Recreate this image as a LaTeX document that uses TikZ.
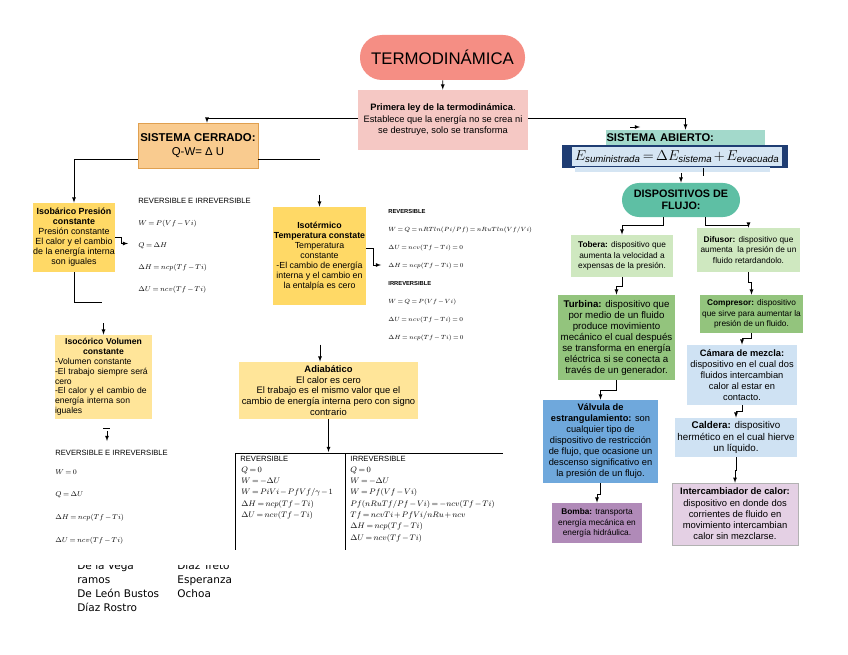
\documentclass[tikz,border=0pt]{standalone}
\usepackage{amsmath}
\usepackage{fontspec}
\setmainfont{Liberation Sans}
\newfontfamily\namefont{DejaVu Sans}
\usepackage{xcolor}
\usepackage{tikz}

\definecolor{termo}{HTML}{F58E84}
\definecolor{ley}{HTML}{F5C8C4}
\definecolor{cerrado}{HTML}{F9CB8F}
\definecolor{cerradoB}{HTML}{E0A050}
\definecolor{amarillo}{HTML}{FFD966}
\definecolor{amarilloC}{HTML}{FFE599}
\definecolor{abierto}{HTML}{A3D9CB}
\definecolor{marino}{HTML}{1F3D73}
\definecolor{celeste}{HTML}{D5E5F3}
\definecolor{flujo}{HTML}{5EBFA4}
\definecolor{verdeC}{HTML}{CFE8C0}
\definecolor{verde}{HTML}{93C47D}
\definecolor{azulC}{HTML}{CFE2F3}
\definecolor{azul}{HTML}{6FA8DC}
\definecolor{malva}{HTML}{B08AB8}
\definecolor{malvaC}{HTML}{E4D0E4}

\thickmuskip=3mu
\medmuskip=2mu

\begin{document}
\begin{tikzpicture}[x=1pt, y=-1pt, >=latex, line width=0.8pt,
  box/.style={rectangle, align=center, inner sep=1pt, font=\fontsize{8}{10}\selectfont},
  rbox/.style={box, font=\fontsize{8.3}{10.8}\selectfont},
  form/.style={anchor=west, inner sep=0pt, font=\fontsize{7}{8}\selectfont},
  tform/.style={form, font=\fontsize{7.6}{8}\selectfont},
  tiny/.style={anchor=west, inner sep=0pt, font=\fontsize{6}{6.5}\selectfont},
  head/.style={anchor=west, inner sep=0pt, font=\fontsize{7.6}{8}\selectfont},
  namen/.style={anchor=base west, inner sep=0pt, font=\namefont\fontsize{10.5}{12}\selectfont}]
  \useasboundingbox (0,0) rectangle (848,655);

  % cabecera
  \node[box, fill=termo, rounded corners=22pt, minimum width=165pt, minimum height=45pt, font=\fontsize{16.8}{19}\selectfont] (termo) at (442.5,57.5) {TERMODINÁMICA};
  \node[box, fill=ley, minimum width=170pt, minimum height=60pt, font=\fontsize{9.3}{11.5}\selectfont] (ley) at (443,120) {\textbf{Primera ley de la termodinámica}.\\Establece que la energía no se crea ni\\se destruye, solo se transforma};
  \draw[->] (termo) -- (ley);

  % sistema cerrado
  \node[box, fill=cerrado, draw=cerradoB, line width=0.6pt, minimum width=120pt, minimum height=45pt, font=\fontsize{11.4}{14}\selectfont] (cerrado) at (198,145.5) {\textbf{SISTEMA CERRADO:}\\Q-W= Δ U};
  \draw[->] ([yshift=2pt]ley.west) -| ([xshift=9pt]cerrado.north);
  \coordinate (cDer) at (320,159);
  \draw ([yshift=-13.5pt]cerrado.east) -- (cDer);

  \node[box, fill=amarillo, minimum width=82pt, minimum height=69pt, inner sep=0pt, font=\fontsize{8.9}{10}\selectfont] (isob) at (74,237.5) {\textbf{Isobárico Presión}\\\textbf{constante}\\Presión constante\\El calor y el cambio\\de la energía interna\\son iguales};
  \draw[->] ([yshift=-13.5pt]cerrado.west) -| (isob.north);
  \coordinate (isobP) at (128,243.5);
  \draw[->] (isob.east) -| ++(6,6) -- (isobP);
  \coordinate (isobB) at (102,302);
  \draw (isob.south) |- (isobB);

  \node[head] (isobH) at (138,201) {REVERSIBLE E IRREVERSIBLE};
  \foreach \f [count=\i] in {W = P(Vf - Vi), Q = \Delta H, \Delta H = ncp(Tf - Ti), \Delta U = ncv(Tf - Ti)}
    \node[form] (isobF\i) at (138,202+22*\i) {$\f$};

  % isotermico
  \node[box, fill=amarillo, minimum width=93pt, minimum height=98pt, inner sep=0pt, font=\fontsize{8.8}{10}\selectfont] (isot) at (319.5,256) {\textbf{Isotérmico}\\\textbf{Temperatura constate}\\Temperatura\\constante\\-El cambio de energía\\interna y el cambio en\\la entalpía es cero};
  \coordinate (isotA) at (319.5,195);
  \draw[->] (isotA) -- (isot.north);
  \coordinate (isotP) at (381,265);
  \draw[->] ([yshift=8pt]isot.east) -| ++(7,17) -- (isotP);

  \node[tiny, font=\bfseries\fontsize{5.8}{6}\selectfont] (isotR) at (388,212) {REVERSIBLE};
  \foreach \f [count=\i] in {W = Q = nRTln(Pi/Pf) = nRuTln(Vf/Vi), \Delta U = ncv(Tf - Ti) = 0, \Delta H = ncp(Tf - Ti) = 0}
    \node[tiny] (isotR\i) at (388,212+18*\i) {$\f$};
  \node[tiny, font=\bfseries\fontsize{5.8}{6}\selectfont] (isotI) at (388,284) {IRREVERSIBLE};
  \foreach \f [count=\i] in {W = Q = P(Vf - Vi), \Delta U = ncv(Tf - Ti) = 0, \Delta H = ncp(Tf - Ti) = 0}
    \node[tiny] (isotI\i) at (388,284+18*\i) {$\f$};

  % isocorico
  \node[box, fill=amarilloC, text width=97pt, align=left, minimum height=84pt, inner sep=0pt, font=\fontsize{8.6}{9.8}\selectfont] (isoc) at (103.5,377) {{\centering\textbf{Isocórico Volumen}\\\textbf{constante}\par}-Volumen constante\\-El trabajo siempre será\\cero\\-El calor y el cambio de\\energía interna son\\iguales};
  \coordinate (isocA) at (103.5,323);
  \draw[->] (isocA) -- (isoc.north);
  \coordinate (isocD1) at (103,428);
  \coordinate (isocD2) at (110,428);
  \draw (isocD1) -- (isocD2);
  \coordinate (isocS) at (107,431);
  \coordinate (isocT) at (107,441);
  \draw[->] (isocS) -- (isocT);

  \node[head] (isocH) at (55,453) {REVERSIBLE E IRREVERSIBLE};
  \foreach \f [count=\i] in {W = 0, Q = \Delta U, \Delta H = ncp(Tf - Ti), \Delta U = ncv(Tf - Ti)}
    \node[form] (isocF\i) at (55,449+23*\i) {$\f$};

  % adiabatico
  \node[box, fill=amarilloC, minimum width=179pt, minimum height=57pt, inner sep=0pt, font=\fontsize{9.4}{10.8}\selectfont] (adia) at (328.5,390.5) {\textbf{Adiabático}\\El calor es cero\\El trabajo es el mismo valor que el\\cambio de energía interna pero con signo\\contrario};
  \draw[->] ([xshift=-8.5pt,yshift=17pt]adia.north) -- ([xshift=-8.5pt]adia.north);
  \coordinate (tabTop) at (328.5,452);
  \draw[->] (adia.south) -- (tabTop);

  % tabla
  \coordinate (tabL) at (235,453);
  \coordinate (tabR) at (503,453);
  \coordinate (tabLB) at (235,550);
  \coordinate (tabM) at (345,453);
  \coordinate (tabMB) at (345,550);
  \draw[line width=0.6pt] (tabL) -- (tabR);
  \draw[line width=0.6pt] (tabL) -- (tabLB);
  \draw[line width=0.6pt] (tabM) -- (tabMB);
  \node[head] (revH) at (240,459) {REVERSIBLE};
  \foreach \f [count=\i] in {Q = 0, W = -\Delta U, W = PiVi - PfVf / \gamma - 1, \Delta H = ncp(Tf - Ti), \Delta U = ncv(Tf - Ti)}
    \node[tform] (rev\i) at (241,459+11.3*\i) {$\f$};
  \node[head] (irrH) at (350,459) {IRREVERSIBLE};
  \foreach \f [count=\i] in {Q = 0, W = -\Delta U, W = Pf(Vf - Vi), Pf(nRuTf/Pf - Vi) = -ncv(Tf - Ti), Tf = ncvTi + PfVi / nRu + ncv, \Delta H = ncp(Tf - Ti), \Delta U = ncv(Tf - Ti)}
    \node[tform] (irr\i) at (350,459+11.3*\i) {$\f$};

  % nombres
  \begin{scope}
    \clip (0,565) rectangle (848,655);
    \foreach \t [count=\i] in {De la Vega, ramos, De León Bustos, Díaz Rostro}
      \node[namen] (nomA\i) at (77,555+14*\i) {\t};
    \foreach \t [count=\i] in {Díaz Treto, Esperanza, Ochoa}
      \node[namen] (nomB\i) at (177,555+14*\i) {\t};
  \end{scope}

  % sistema abierto
  \node[box, fill=abierto, text width=158pt, align=left, minimum height=15pt, inner sep=0.5pt, font=\bfseries\fontsize{11.2}{12}\selectfont] (abiertoT) at (685.5,137.5) {SISTEMA ABIERTO:};
  \draw[->] ([yshift=2pt]ley.east) -| (abiertoT.north);
  \coordinate (t1) at (630,127);
  \coordinate (t2) at (640,127);
  \draw[->] (t1) -- (t2);
  \node[fill=marino, minimum width=226pt, minimum height=23pt, inner sep=0pt] (marco) at (675,156.5) {};
  \node[fill=celeste, minimum width=195pt, minimum height=5pt, inner sep=0pt] (franja) at (672.5,170) {};
  \node[fill=celeste, minimum width=210pt, minimum height=19pt, inner sep=0pt, font=\fontsize{13.8}{15}\selectfont] (formula) at (677,156.5) {$E_{\mathit{suministrada}} = \Delta E_{\mathit{sistema}} + E_{\mathit{evacuada}}$};

  \node[box, fill=flujo, rounded corners=17pt, minimum width=118pt, minimum height=34pt, font=\bfseries\fontsize{10.8}{12.5}\selectfont] (flujo) at (681,200) {DISPOSITIVOS DE\\FLUJO:};
  \draw[->] (flujo.north |- franja.south) -- (flujo.north);
  \coordinate (tk1) at (703,168);
  \coordinate (tk2) at (703,176);
  \draw (tk1) -- (tk2);

  % dispositivos
  \node[rbox, fill=verdeC, minimum width=102pt, minimum height=42pt] (tobera) at (622,256) {\textbf{Tobera:} dispositivo que\\aumenta la velocidad a\\expensas de la presión.};
  \node[rbox, fill=verdeC, minimum width=103pt, minimum height=44pt] (difusor) at (748.5,250) {\textbf{Difusor:} dispositivo que\\aumenta\ \ la presión de un\\fluido retardandolo.};
  \node[rbox, fill=verde, minimum width=117pt, minimum height=85pt, inner sep=0pt, font=\fontsize{9.7}{11}\selectfont] (turbina) at (616.5,337.5) {\textbf{Turbina:} dispositivo que\\por medio de un fluido\\produce movimiento\\mecánico el cual después\\se transforma en energía\\eléctrica si se conecta a\\través de un generador.};
  \node[rbox, fill=verde, minimum width=103pt, minimum height=38pt] (compresor) at (751.5,314) {\textbf{Compresor:} dispositivo\\que sirve para aumentar la\\presión de un fluido.};
  \node[rbox, fill=azulC, minimum width=110pt, minimum height=60pt, inner sep=0pt, font=\fontsize{9.3}{11}\selectfont] (camara) at (742,375) {\textbf{Cámara de mezcla:}\\dispositivo en el cual dos\\fluidos intercambian\\calor al estar en\\contacto.};
  \node[rbox, fill=azulC, minimum width=122pt, minimum height=39pt, inner sep=0pt, font=\fontsize{9.8}{11.3}\selectfont] (caldera) at (736,437.5) {\textbf{Caldera:} dispositivo\\hermético en el cual hierve\\un líquido.};
  \node[rbox, fill=malvaC, draw=gray!60, line width=0.5pt, minimum width=126pt, minimum height=62pt, inner sep=0pt, font=\fontsize{9.4}{11.2}\selectfont] (interc) at (735,514) {\textbf{Intercambiador de calor:}\\dispositivo en donde dos\\corrientes de fluido en\\movimiento intercambian\\calor sin mezclarse.};
  \node[rbox, fill=azul, minimum width=115pt, minimum height=83pt, inner sep=0pt, font=\fontsize{9.3}{11}\selectfont] (valvula) at (600.5,441.5) {\textbf{Válvula de}\\\textbf{estrangulamiento:} son\\cualquier tipo de\\dispositivo de restricción\\de flujo, que ocasione un\\descenso significativo en\\la presión de un flujo.};
  \node[rbox, fill=malva, minimum width=90pt, minimum height=40pt] (bomba) at (597,523) {\textbf{Bomba:} transporta\\energía mecánica en\\energía hidráulica.};

  \draw[->] ([xshift=-18pt]flujo.south) -- ++(0,8) -| (tobera.north);
  \draw[->] ([xshift=24pt]flujo.south) -- ++(0,8) -| (difusor.north);
  \draw[->] (tobera.south) -- ++(0,9) -| (turbina.north);
  \draw[->] (difusor.south) -- ++(0,10) -| (compresor.north);
  \draw[->] (compresor.south) -- ++(0,5) -| (camara.north);
  \draw[->] (camara.south) -- ++(0,6) -| (caldera.north);
  \draw[->] (caldera.south) -- ++(0,13) -| (interc.north);
  \draw[->] (turbina.south) -- ++(0,10) -| (valvula.north);
  \draw[->] (valvula.south) -- ++(0,11) -| (bomba.north);
\end{tikzpicture}
\end{document}
